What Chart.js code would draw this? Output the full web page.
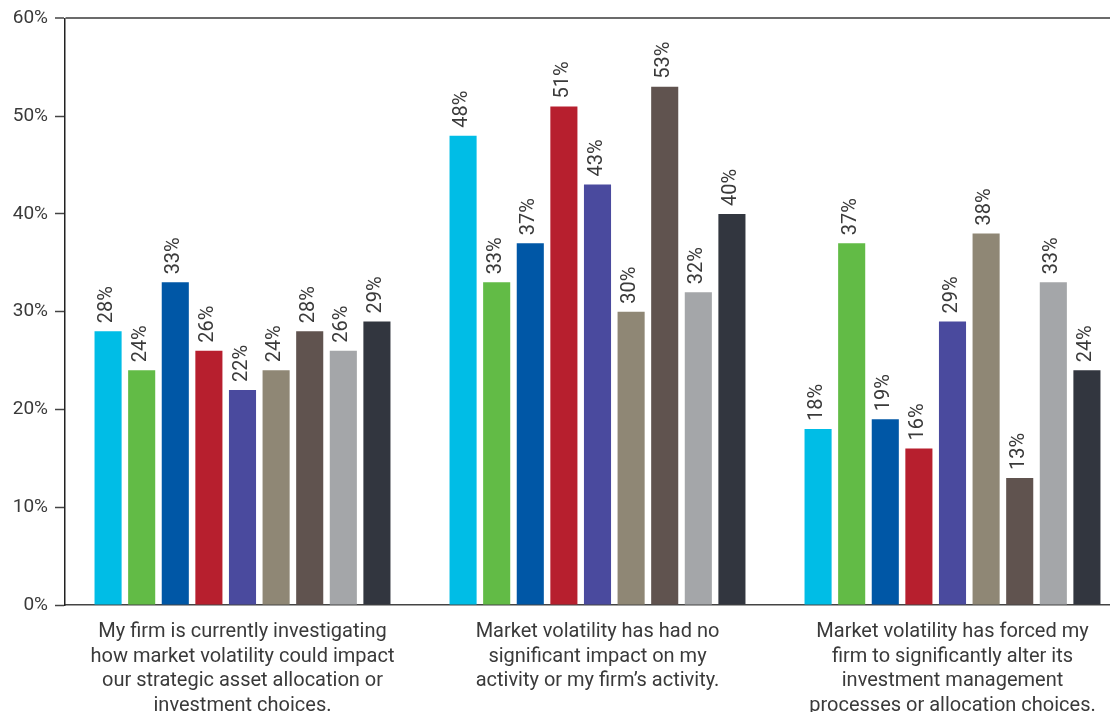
<!DOCTYPE html>
<html>
<head>
<meta charset="utf-8">
<script src="https://cdn.jsdelivr.net/npm/chart.js@4.4.1/dist/chart.umd.min.js"></script>
<style>
  html, body { margin: 0; padding: 0; background: #fff; overflow: hidden; }
  #wrap { width: 1130px; height: 712px; position: relative; }
</style>
</head>
<body>
<div id="wrap"><canvas id="chart"></canvas></div>
<script>
const categories = [
    ["My firm is currently investigating", "how market volatility could impact", "our strategic asset allocation or", "investment choices."],
    ["Market volatility has had no", "significant impact on my", "activity or my firm\u2019s activity."],
    ["Market volatility has forced my", "firm to significantly alter its", "investment management", "processes or allocation choices."]
];

const seriesNames = ["Series 1", "Series 2", "Series 3", "Series 4", "Series 5", "Series 6", "Series 7", "Series 8", "Series 9"];
const seriesColors = ["#00bde6", "#62bb46", "#0057a6", "#b71f2e", "#4a4a9e", "#8f8775", "#60534f", "#a4a6a9", "#32363f"];

// one array per series: [cat1, cat2, cat3]
const s1 = [28, 48, 18];
const s2 = [24, 33, 37];
const s3 = [33, 37, 19];
const s4 = [26, 51, 16];
const s5 = [22, 43, 29];
const s6 = [24, 30, 38];
const s7 = [28, 53, 13];
const s8 = [26, 32, 33];
const s9 = [29, 40, 24];
const seriesValues = [s1, s2, s3, s4, s5, s6, s7, s8, s9];

const yTicks = [0, 10, 20, 30, 40, 50, 60];

const textColor = '#3a3a3a';
const fontFamily = 'Roboto, sans-serif';

const datasets = seriesValues.map((vals, i) => ({
    label: seriesNames[i],
    data: vals,
    backgroundColor: seriesColors[i],
    borderWidth: 0,
    barPercentage: 0.806,
    categoryPercentage: 0.852
}));

// value labels, rotated, above each bar
const valueLabels = {
    id: 'valueLabels',
    afterDatasetsDraw(chart) {
        const ctx = chart.ctx;
        ctx.save();
        ctx.fillStyle = textColor;
        ctx.font = '20px ' + fontFamily;
        ctx.textAlign = 'left';
        ctx.textBaseline = 'middle';
        chart.data.datasets.forEach((ds, i) => {
            const meta = chart.getDatasetMeta(i);
            meta.data.forEach((bar, j) => {
                ctx.save();
                ctx.translate(bar.x - 1, bar.y - 8);
                ctx.rotate(-Math.PI / 2);
                ctx.fillText(ds.data[j] + '%', 0, 0);
                ctx.restore();
            });
        });
        ctx.restore();
    }
};

new Chart(document.getElementById('chart'), {
    type: 'bar',
    data: { labels: categories, datasets: datasets },
    plugins: [valueLabels],
    options: {
        responsive: true,
        maintainAspectRatio: false,
        animation: false,
        layout: { padding: { top: 18, left: 0, right: 0, bottom: 0 } },
        plugins: {
            legend: { display: false },
            tooltip: { enabled: false }
        },
        scales: {
            x: {
                grid: { display: false, drawTicks: false },
                border: { color: '#444', width: 1.5 },
                ticks: {
                    color: textColor,
                    font: { family: fontFamily, size: 20, lineHeight: 1.225 },
                    padding: 15,
                    maxRotation: 0,
                    autoSkip: false
                },
                afterFit(scale) { scale.height = 107; }
            },
            y: {
                min: 0,
                max: 60,
                afterBuildTicks(scale) { scale.ticks = yTicks.map(v => ({ value: v })); },
                grid: {
                    drawOnChartArea: true,
                    color: c => (c.tick && c.tick.value === 60) ? '#6b6b6b' : 'rgba(0,0,0,0)',
                    lineWidth: c => (c.tick && c.tick.value === 60) ? 2 : 1,
                    tickColor: '#444',
                    tickWidth: 1.5,
                    tickLength: 10
                },
                border: { color: '#222', width: 1.5 },
                ticks: {
                    color: textColor,
                    font: { family: fontFamily, size: 19 },
                    padding: 7,
                    callback: v => v + '%'
                },
                afterFit(scale) { scale.width = 65; }
            }
        }
    }
});
</script>
</body>
</html>
